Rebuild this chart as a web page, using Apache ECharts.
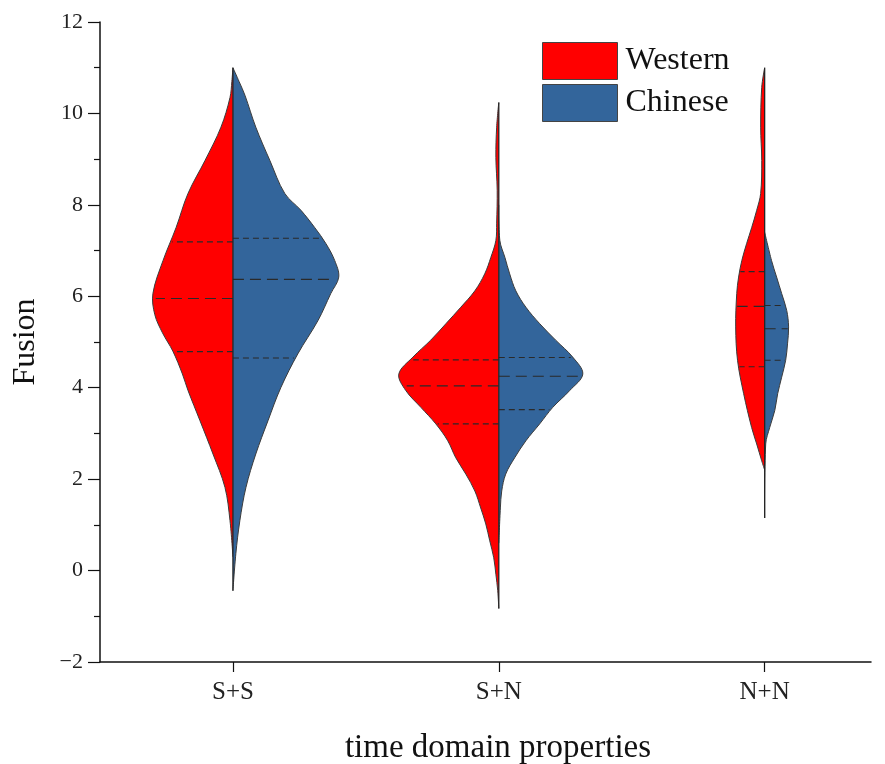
<!DOCTYPE html>
<html>
<head>
<meta charset="utf-8">
<script src="https://cdn.jsdelivr.net/npm/echarts@6/dist/echarts.min.js"></script>
<style>
html,body{margin:0;padding:0;background:#fff;}
#chart{width:885px;height:764px;}
</style>
</head>
<body>
<div id="chart"></div>
<script>
// ---------------- data ----------------
var categories = ['S+S', 'S+N', 'N+N'];
var groupNames = ['Western', 'Chinese'];

// violin half profiles: [value, half-width (x-axis units)], top to bottom
var westernProfiles = [
  [[11.0,0],[10.7,0.004],[10.35,0.011],[9.7,0.045],[8.97,0.105],[8.25,0.169],[7.5,0.214],[6.78,0.263],[6.06,0.301],[5.6,0.294],[5.2,0.265],[4.8,0.226],[4.3,0.190],[3.94,0.169],[3.28,0.124],[2.55,0.075],[1.82,0.030],[1.09,0.011],[0.3,0]],
  [[10.24,0],[9.7,0.008],[9.04,0.011],[8.32,0.006],[7.6,0.008],[7.22,0.011],[6.85,0.030],[6.49,0.053],[6.12,0.090],[5.76,0.143],[5.40,0.199],[5.04,0.256],[4.67,0.323],[4.30,0.376],[3.94,0.350],[3.57,0.293],[3.21,0.237],[2.84,0.192],[2.47,0.162],[2.11,0.124],[1.74,0.090],[1.37,0.068],[1.02,0.049],[0.65,0.034],[0.28,0.019],[-0.08,0.011],[-0.44,0.004],[-0.83,0]],
  [[11.0,0],[10.57,0.011],[9.7,0.015],[8.97,0.011],[8.25,0.015],[7.88,0.030],[7.5,0.049],[7.15,0.068],[6.78,0.086],[6.42,0.098],[6.06,0.105],[5.33,0.109],[4.6,0.102],[3.87,0.079],[3.13,0.049],[2.77,0.030],[2.4,0.011],[2.2,0]]
];
var chineseProfiles = [
  [[11.0,0],[10.7,0.023],[10.4,0.045],[9.7,0.086],[8.97,0.139],[8.25,0.195],[7.88,0.256],[7.5,0.308],[7.15,0.350],[6.78,0.383],[6.42,0.398],[6.06,0.368],[5.47,0.320],[4.74,0.244],[4.0,0.180],[3.28,0.132],[2.55,0.086],[1.82,0.049],[1.09,0.026],[0.37,0.011],[-0.44,0]],
  [[8.0,0],[7.22,0.004],[6.85,0.023],[6.49,0.041],[6.12,0.064],[5.76,0.102],[5.40,0.154],[5.04,0.214],[4.67,0.278],[4.30,0.316],[3.94,0.267],[3.57,0.203],[3.21,0.154],[2.84,0.102],[2.47,0.060],[2.11,0.026],[1.74,0.011],[1.37,0.006],[0.6,0]],
  [[7.4,0],[6.78,0.026],[6.42,0.045],[6.06,0.064],[5.69,0.083],[5.33,0.090],[4.96,0.086],[4.6,0.079],[4.23,0.064],[3.87,0.049],[3.5,0.038],[3.13,0.019],[2.77,0.004],[1.15,0]]
];
// quartiles [Q1, median, Q3]
var westernQuartiles = [[4.79, 5.95, 7.19], [3.21, 4.04, 4.61], [4.46, 5.78, 6.54]];
var chineseQuartiles = [[4.65, 6.37, 7.27], [3.52, 4.25, 4.66], [4.60, 5.29, 5.80]];
// center-line extents (bottom tip, top tip)
var centerExtents = [[-0.44, 11.0], [-0.83, 10.24], [1.15, 11.0]];

var yTicks = [-2, 0, 2, 4, 6, 8, 10, 12];

// ---------------- rendering ----------------
var FONT = "'Liberation Serif', 'Times New Roman', serif";
var RED = '#FF0000';
var BLUE = '#33659B';

function widthAt(prof, v) {
  for (var i = 0; i < prof.length - 1; i++) {
    var a = prof[i], b = prof[i + 1];
    if (v <= a[0] && v >= b[0]) {
      var t = (a[0] - v) / (a[0] - b[0]);
      return a[1] + (b[1] - a[1]) * t;
    }
  }
  return 0;
}

function makeRender(profiles, quartiles, side, color, drawCenter) {
  return function (params, api) {
    var ci = api.value(0);
    var cx = ci + 1;
    var prof = profiles[ci];
    var pts = prof.map(function (p) { return api.coord([cx + side * p[1], p[0]]); });
    var children = [{
      type: 'polyline',
      shape: { points: pts, smooth: 0.35 },
      style: { fill: color, stroke: '#3b3b3b', lineWidth: 1 }
    }];
    var q = quartiles[ci];
    for (var k = 0; k < q.length; k++) {
      var w = widthAt(prof, q[k]) * 0.97;
      var p0 = api.coord([cx, q[k]]);
      var p1 = api.coord([cx + side * w, q[k]]);
      children.push({
        type: 'line',
        shape: { x1: p0[0], y1: p0[1], x2: p1[0], y2: p1[1] },
        style: { stroke: '#2a2a2a', lineWidth: 1.1, lineDash: k === 1 ? [11, 6] : [6, 4] }
      });
    }
    if (drawCenter) {
      var e = centerExtents[ci];
      var c0 = api.coord([cx, e[0]]);
      var c1 = api.coord([cx, e[1]]);
      children.push({
        type: 'line',
        shape: { x1: c0[0], y1: c0[1], x2: c1[0], y2: c1[1] },
        style: { stroke: '#262626', lineWidth: 1.3 }
      });
    }
    return { type: 'group', children: children };
  };
}

var chart = echarts.init(document.getElementById('chart'), null, { renderer: 'canvas' });
var catIdx = categories.map(function (c, i) { return [i]; });

chart.setOption({
  backgroundColor: '#fff',
  animation: false,
  textStyle: { fontFamily: FONT },
  grid: { left: 100, right: 14, top: 22, bottom: 102, containLabel: false, outerBoundsMode: 'none' },
  legend: {
    orient: 'vertical',
    left: 542, top: 42, padding: 0,
    itemWidth: 75, itemHeight: 37, itemGap: 4,
    icon: 'rect',
    itemStyle: { borderColor: '#444', borderWidth: 1 },
    textStyle: { fontFamily: FONT, fontSize: 32, color: '#111', padding: [0, 0, 0, 3] },
    data: groupNames
  },
  xAxis: {
    type: 'value', min: 0.5, max: 3.4,
    name: 'time domain properties', nameLocation: 'middle', nameGap: 70,
    nameTextStyle: { fontFamily: FONT, fontSize: 33, color: '#111', padding: [0, 0, 0, 25] },
    axisLine: { show: true, onZero: false, lineStyle: { color: '#111', width: 1.5 } },
    axisTick: { show: true, length: 10, customValues: [1, 2, 3], lineStyle: { color: '#111', width: 1.2 } },
    axisLabel: {
      customValues: [1, 2, 3], margin: 18,
      fontFamily: FONT, fontSize: 25, color: '#222',
      formatter: function (v) { return categories[Math.round(v) - 1] || ''; }
    },
    splitLine: { show: false }
  },
  yAxis: {
    type: 'value', min: yTicks[0], max: yTicks[yTicks.length - 1], interval: 2,
    name: 'Fusion', nameLocation: 'middle', nameGap: 58,
    nameTextStyle: { fontFamily: FONT, fontSize: 32, color: '#111' },
    axisLine: { show: true, onZero: false, lineStyle: { color: '#111', width: 1.5 } },
    axisTick: { show: true, length: 12, lineStyle: { color: '#111', width: 1.2 } },
    minorTick: { show: true, splitNumber: 2, length: 6, lineStyle: { color: '#111', width: 1.2 } },
    axisLabel: {
      margin: 17, fontFamily: FONT, fontSize: 22, color: '#222',
      formatter: function (v) { return v < 0 ? '\u2212' + Math.abs(v) : String(v); }
    },
    splitLine: { show: false }
  },
  series: [
    {
      name: groupNames[0], type: 'custom',
      itemStyle: { color: RED },
      renderItem: makeRender(westernProfiles, westernQuartiles, -1, RED, false),
      encode: { x: 0 },
      data: catIdx, z: 2
    },
    {
      name: groupNames[1], type: 'custom',
      itemStyle: { color: BLUE },
      renderItem: makeRender(chineseProfiles, chineseQuartiles, 1, BLUE, true),
      encode: { x: 0 },
      data: catIdx, z: 3
    }
  ]
});
</script>
</body>
</html>
